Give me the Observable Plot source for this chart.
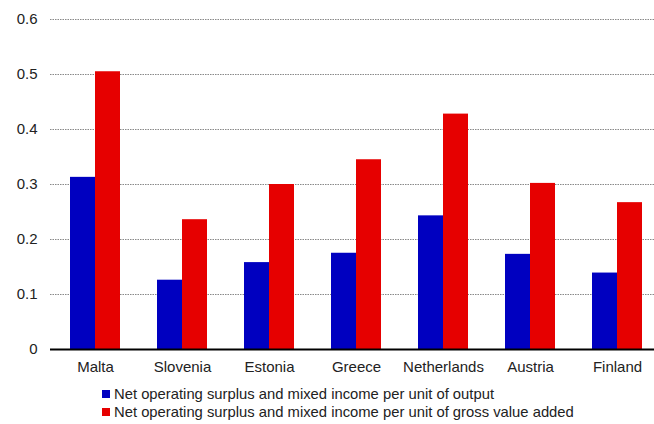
<!DOCTYPE html>
<html>
<head>
<meta charset="utf-8">
<script src="https://cdn.jsdelivr.net/npm/d3@7"></script>
<script src="https://cdn.jsdelivr.net/npm/@observablehq/plot@0.6"></script>
<style>
  body { margin: 0; background: #fff; font-family: "Liberation Sans", Arial, sans-serif; }
  #chart { width: 654px; }
  .legend { margin-left: 102px; margin-top: 5px; font-size: 14.8px; color: #222; line-height: 18px; }
  .legend div { display: flex; align-items: center; white-space: nowrap; }
  .legend span.sw { display: inline-block; width: 8px; height: 8px; margin-right: 4px; }
</style>
</head>
<body>
<div id="chart"></div>
<script>
const countries = ["Malta", "Slovenia", "Estonia", "Greece", "Netherlands", "Austria", "Finland"];
const perOutput = [0.313, 0.126, 0.158, 0.175, 0.243, 0.173, 0.139];
const perGVA = [0.505, 0.236, 0.300, 0.345, 0.428, 0.302, 0.267];
const yTicks = [0, 0.1, 0.2, 0.3, 0.4, 0.5, 0.6];
const seriesNames = [
  "Net operating surplus and mixed income per unit of output",
  "Net operating surplus and mixed income per unit of gross value added"
];
const seriesColors = ["#0000c0", "#e60000"];

const rowsOutput = countries.map((c, i) => ({country: c, value: perOutput[i]}));
const rowsGVA = countries.map((c, i) => ({country: c, value: perGVA[i]}));

const chart = Plot.plot({
  width: 654,
  height: 380,
  marginLeft: 50,
  marginRight: 0,
  marginTop: 19,
  marginBottom: 31,
  style: {fontFamily: "'Liberation Sans', Arial, sans-serif", fontSize: "15px", color: "#222", background: "#fff"},
  x: {domain: countries, range: [50.3, 661.3], paddingInner: 0.4275, paddingOuter: 0.21375, label: null},
  y: {domain: [0, 0.6], label: null},
  marks: [
    Plot.ruleY(yTicks.filter(d => d > 0), {stroke: "#888", strokeWidth: 1, strokeDasharray: "1.5,1"}),
    Plot.barY(rowsOutput, {x: "country", y: "value", fill: seriesColors[0], insetRight: 25, insetLeft: 0}),
    Plot.barY(rowsGVA, {x: "country", y: "value", fill: seriesColors[1], insetLeft: 25, insetRight: 0}),
    Plot.ruleY([0], {stroke: "#000", strokeWidth: 2}),
    Plot.axisY({ticks: yTicks, tickFormat: d => d === 0 ? "0" : d3.format(".1f")(d), tickSize: 0, tickPadding: 13, fontSize: 15, fill: "#222"}),
    Plot.axisX({tickSize: 0, tickPadding: 12, fontSize: 15, fill: "#222"})
  ]
});
document.getElementById("chart").appendChild(chart);

const legend = document.createElement("div");
legend.className = "legend";
seriesNames.forEach((name, i) => {
  const row = document.createElement("div");
  const sw = document.createElement("span");
  sw.className = "sw";
  sw.style.background = seriesColors[i];
  row.appendChild(sw);
  row.appendChild(document.createTextNode(name));
  legend.appendChild(row);
});
document.getElementById("chart").appendChild(legend);
</script>
</body>
</html>
